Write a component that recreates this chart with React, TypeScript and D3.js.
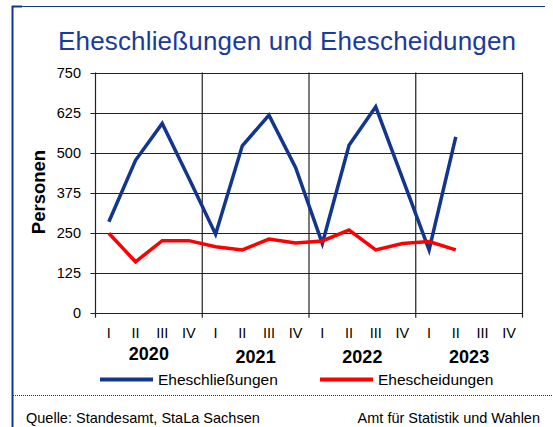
import React from "react";
import * as d3 from "d3";

const quarters = ["I", "II", "III", "IV"];
const years = ["2020", "2021", "2022", "2023"];
const marriages = [284, 476, 591, 420, 245, 521, 617, 453, 216, 523, 643, 420, 196, 549];
const divorces = [248, 159, 225, 225, 206, 196, 230, 218, 224, 258, 196, 216, 222, 196];
const yTicks = [0, 125, 250, 375, 500, 625, 750];

const W = 553, H = 427;
const left = 95.5, right = 522.5, top = 72.5, bottom = 312.7;
const BLUE = "#12368f";
const RED = "#ff0000";
const FONT = "Liberation Sans, Arial, sans-serif";

export default function App() {
  const nQ = years.length * quarters.length;
  const x = d3.scaleLinear().domain([0, nQ]).range([left, right]);
  const y = d3.scaleLinear().domain([0, 750]).range([bottom, top]);
  const line = d3.line<number>().x((_, i) => x(i + 0.5)).y((d) => y(d));

  return (
    <svg width={W} height={H} style={{ position: "absolute", left: 0, top: 0, background: "#fff" }}>
      {/* frame */}
      <line x1={12.5} y1={6} x2={12.5} y2={H} stroke={BLUE} strokeWidth={2} />
      <line x1={12} y1={6.5} x2={545} y2={6.5} stroke={BLUE} strokeWidth={1} />
      <line x1={12} y1={6.5} x2={22} y2={6.5} stroke={BLUE} strokeWidth={2} />
      <line x1={13} y1={395.5} x2={W} y2={395.5} stroke={BLUE} strokeWidth={1} strokeDasharray="1,1" />

      <text x={287} y={50} textAnchor="middle" fontFamily={FONT} fontSize={26} fill="#1a3a9c" textLength={458} lengthAdjust="spacing">
        Eheschließungen und Ehescheidungen
      </text>

      {/* grid */}
      {yTicks.map((t) => (
        <g key={t}>
          <line x1={left - 5} x2={right} y1={Math.round(y(t)) + 0.5} y2={Math.round(y(t)) + 0.5} stroke="#222" strokeWidth={1.2} />
          <text x={81} y={y(t) + 5.3} textAnchor="end" fontFamily={FONT} fontSize={14.5} fill="#000">{t}</text>
        </g>
      ))}
      {d3.range(years.length + 1).map((i) => (
        <line key={i} x1={x(i * 4)} x2={x(i * 4)} y1={top} y2={bottom + 5} stroke="#222" strokeWidth={1.2} />
      ))}

      {/* x labels */}
      {d3.range(nQ).map((i) => (
        <text key={i} x={x(i + 0.5)} y={337.5} textAnchor="middle" fontFamily={FONT} fontSize={14.5} fill="#000">
          {quarters[i % 4]}
        </text>
      ))}
      {years.map((yr, i) => (
        <text key={yr} x={x(i * 4 + 2)} y={i === 0 ? 360 : 362.5} textAnchor="middle" fontFamily={FONT} fontSize={18} fontWeight="bold" fill="#000">
          {yr}
        </text>
      ))}

      <text transform={`translate(45,192) rotate(-90)`} textAnchor="middle" fontFamily={FONT} fontSize={18.5} fontWeight="bold" fill="#000">
        Personen
      </text>

      {/* series */}
      <path d={line(marriages) || ""} fill="none" stroke={BLUE} strokeWidth={3.5} strokeLinejoin="miter" />
      <path d={line(divorces) || ""} fill="none" stroke={RED} strokeWidth={3.5} strokeLinejoin="miter" />

      {/* legend */}
      <line x1={100} x2={153} y1={379.5} y2={379.5} stroke={BLUE} strokeWidth={4} />
      <text x={158} y={385} fontFamily={FONT} fontSize={15.5} fill="#000">Eheschließungen</text>
      <line x1={320} x2={373} y1={379.5} y2={379.5} stroke={RED} strokeWidth={4} />
      <text x={378} y={385} fontFamily={FONT} fontSize={15.5} fill="#000">Ehescheidungen</text>

      {/* footer */}
      <text x={26} y={423} fontFamily={FONT} fontSize={14.5} fill="#000">Quelle: Standesamt, StaLa Sachsen</text>
      <text x={540} y={423} textAnchor="end" fontFamily={FONT} fontSize={14.5} fill="#000">Amt für Statistik und Wahlen</text>
    </svg>
  );
}
